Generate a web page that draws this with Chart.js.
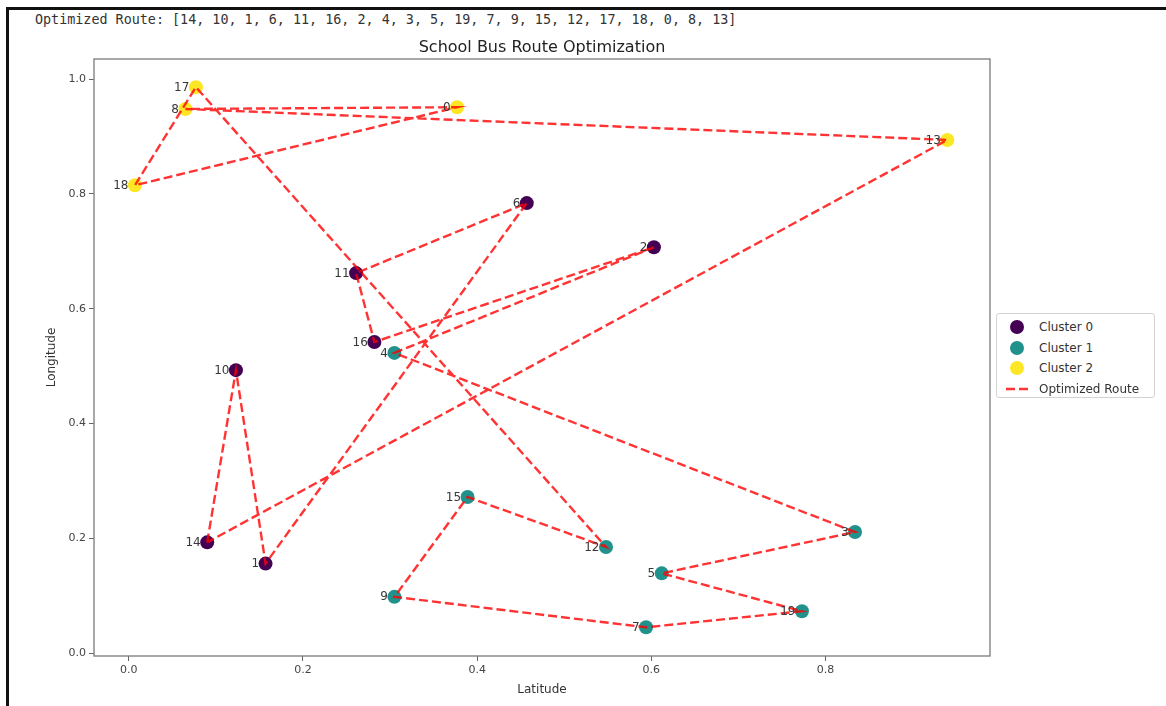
<!DOCTYPE html>
<html>
<head>
<meta charset="utf-8">
<title>School Bus Route Optimization</title>
<script src="https://cdn.jsdelivr.net/npm/chart.js@4.4.1/dist/chart.umd.min.js"></script>
<style>
  html, body { margin: 0; padding: 0; background: #fff; width: 1166px; height: 706px; overflow: hidden; }
  #frame { position: absolute; left: 6px; top: 7px; width: 1200px; height: 760px;
           border-left: 3px solid #111; border-top: 3px solid #111; }
  #route { position: absolute; left: 35px; top: 12px; font: 13.4px 'DejaVu Sans Mono', monospace;
           color: #333; white-space: pre; line-height: 16px; }
  #chart { position: absolute; left: 0; top: 0; }
  #legend { position: absolute; left: 996px; top: 313px; width: 157px; height: 83px;
            border: 1px solid #d3d3d3; border-radius: 3px; background: #fff;
            font: 12px 'DejaVu Sans', sans-serif; color: #333; }
  .row { position: absolute; left: 0; height: 16px; line-height: 16px; }
  .row .mk { position: absolute; left: 9px; top: 0; width: 22px; height: 16px; }
  .row .tx { position: absolute; left: 42px; top: 0; white-space: nowrap; }
</style>
</head>
<body>
<div id="frame"></div>
<div id="route"></div>
<canvas id="chart" width="1166" height="706"></canvas>
<div id="legend"></div>
<script>
// Stop coordinates, indexed by stop number
const latitude  = [0.377, 0.157, 0.603, 0.834, 0.305, 0.612, 0.457, 0.594, 0.065, 0.305,
                   0.123, 0.261, 0.548, 0.940, 0.090, 0.389, 0.282, 0.077, 0.007, 0.773];
const longitude = [0.951, 0.156, 0.707, 0.211, 0.523, 0.139, 0.784, 0.045, 0.948, 0.098,
                   0.493, 0.662, 0.185, 0.894, 0.193, 0.272, 0.542, 0.986, 0.815, 0.073];
// Cluster assigned to each stop
const clusterOf = [2, 0, 0, 1, 1, 1, 0, 1, 2, 1,
                   0, 0, 1, 2, 0, 1, 0, 2, 2, 1];
const clusterNames  = ['Cluster 0', 'Cluster 1', 'Cluster 2'];
const clusterColors = ['#440154', '#21918c', '#fde725'];
// Visiting order of the optimized tour
const route = [14, 10, 1, 6, 11, 16, 2, 4, 3, 5, 19, 7, 9, 15, 12, 17, 18, 0, 8, 13];
// Axis ticks
const xTicks = [0.0, 0.2, 0.4, 0.6, 0.8];
const yTicks = [0.0, 0.2, 0.4, 0.6, 0.8, 1.0];

const routeColor = 'rgba(255, 0, 0, 0.8)';

document.getElementById('route').textContent = 'Optimized Route: [' + route.join(', ') + ']';

const clusterSets = clusterNames.map((name, k) => ({
  type: 'scatter',
  label: name,
  data: latitude.map((v, i) => ({ x: v, y: longitude[i], k: clusterOf[i] }))
                .filter(p => p.k === k),
  pointRadius: 7,
  pointBorderWidth: 0,
  backgroundColor: clusterColors[k],
  borderColor: clusterColors[k],
  order: 1
}));

// Closed tour: return to the first stop at the end
const tour = route.concat([route[0]]).map(i => ({ x: latitude[i], y: longitude[i] }));
const routeSet = {
  type: 'scatter',
  label: 'Optimized Route',
  data: tour,
  showLine: true,
  pointRadius: 0,
  borderColor: routeColor,
  borderWidth: 2.4,
  borderDash: [9, 4],
  fill: false,
  order: 0
};

// Stop numbers next to each point, plus the boxed plot frame
const decor = {
  id: 'decor',
  afterDatasetsDraw(chart) {
    const { ctx, chartArea: a, scales: { x, y } } = chart;
    ctx.save();
    ctx.font = '12px "DejaVu Sans"';
    ctx.fillStyle = '#383838';
    ctx.textAlign = 'right';
    ctx.textBaseline = 'middle';
    latitude.forEach((v, i) => {
      ctx.fillText(String(i), x.getPixelForValue(v) - 6.5, y.getPixelForValue(longitude[i]) + 0.5);
    });
    ctx.strokeStyle = '#7a7a7a';
    ctx.lineWidth = 1.3;
    ctx.strokeRect(a.left, a.top, a.right - a.left, a.bottom - a.top);
    ctx.restore();
  }
};

const tickFont = { family: 'DejaVu Sans', size: 11 };
const axisTitleFont = { family: 'DejaVu Sans', size: 12 };

new Chart(document.getElementById('chart'), {
  type: 'scatter',
  data: { datasets: [...clusterSets, routeSet] },
  options: {
    responsive: false,
    animation: false,
    events: [],
    layout: { padding: { left: 41, right: 176, top: 0, bottom: 5 } },
    plugins: {
      legend: { display: false },
      tooltip: { enabled: false },
      title: {
        display: true,
        text: 'School Bus Route Optimization',
        fullSize: false,
        color: '#222',
        font: { family: 'DejaVu Sans', size: 16, weight: 'normal' },
        padding: { top: 38, bottom: 1.8 }
      }
    },
    scales: {
      x: {
        type: 'linear',
        min: -0.04,
        max: 0.989,
        afterBuildTicks: s => { s.ticks = xTicks.map(v => ({ value: v })); },
        afterFit: s => { s.height = 45; },
        ticks: { font: tickFont, color: '#444', padding: 3, maxRotation: 0,
                 callback: v => Number(v).toFixed(1) },
        grid: { drawOnChartArea: false, drawTicks: true, tickLength: 5, color: '#666' },
        border: { display: false },
        title: { display: true, text: 'Latitude', font: axisTitleFont, color: '#333' }
      },
      y: {
        type: 'linear',
        min: -0.005,
        max: 1.035,
        afterBuildTicks: s => { s.ticks = yTicks.map(v => ({ value: v })); },
        afterFit: s => { s.width = 53; },
        ticks: { font: tickFont, color: '#444', padding: 3,
                 callback: v => Number(v).toFixed(1) },
        grid: { drawOnChartArea: false, drawTicks: true, tickLength: 5, color: '#666' },
        border: { display: false },
        title: { display: true, text: 'Longitude', font: axisTitleFont, color: '#333' }
      }
    }
  },
  plugins: [decor]
});

// Legend entries built from the same series definitions
const legend = document.getElementById('legend');
const entries = clusterNames.map((n, k) => ({ label: n, kind: 'dot', color: clusterColors[k] }))
  .concat([{ label: 'Optimized Route', kind: 'line', color: routeColor }]);
const rowTops = [5, 25.5, 46, 66.5];
entries.forEach((e, i) => {
  const row = document.createElement('div');
  row.className = 'row';
  row.style.top = rowTops[i] + 'px';
  const mk = e.kind === 'dot'
    ? '<svg class="mk" width="22" height="16"><circle cx="11" cy="8" r="7" fill="' + e.color + '"/></svg>'
    : '<svg class="mk" width="22" height="16"><line x1="0" y1="8" x2="22" y2="8" stroke="' + e.color +
      '" stroke-width="2.4" stroke-dasharray="9 4"/></svg>';
  row.innerHTML = mk + '<span class="tx">' + e.label + '</span>';
  legend.appendChild(row);
});
</script>
</body>
</html>
